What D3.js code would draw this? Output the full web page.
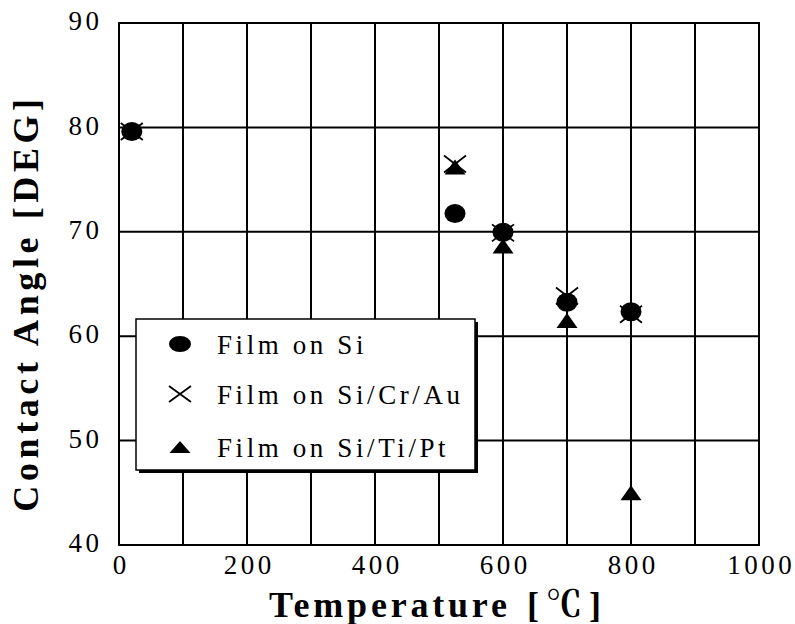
<!DOCTYPE html>
<html><head><meta charset="utf-8">
<script src="https://cdn.jsdelivr.net/npm/d3@7"></script>
<style>
body{margin:0;background:#fff;}
text{font-family:"Liberation Serif","Times New Roman","Noto Serif CJK JP","Noto Sans CJK JP",serif;fill:#000;}
</style></head>
<body>
<svg id="c" width="795" height="624"></svg>
<script>
const xTicks = [0, 200, 400, 600, 800, 1000];
const yTicks = [40, 50, 60, 70, 80, 90];
const xGrid = [100, 200, 300, 400, 500, 600, 700, 800, 900];
const yGrid = [50, 60, 70, 80];

const tempSi = [20, 525, 600, 700, 800];
const angleSi = [79.6, 71.75, 69.95, 63.25, 62.35];
const tempCrAu = [20, 525, 600, 700, 800];
const angleCrAu = [79.6, 76.5, 69.9, 63.85, 62.1];
const tempTiPt = [525, 600, 700, 800];
const angleTiPt = [76.2, 68.65, 61.5, 45.0];

const seriesNames = ["Film on Si", "Film on Si/Cr/Au", "Film on Si/Ti/Pt"];
const xTitleMain = "Temperature";
const xTitleUnit = "[℃]";
const yTitle = "Contact Angle [DEG]";

const svg = d3.select("#c");
const L = 119, R = 759, T = 23, B = 545;
const x = d3.scaleLinear().domain([0, 1000]).range([L, R]);
const y = d3.scaleLinear().domain([40, 90]).range([B, T]);

// grid
svg.append("g").selectAll("line").data(xGrid).join("line")
  .attr("x1", d => x(d)).attr("x2", d => x(d)).attr("y1", T).attr("y2", B)
  .attr("stroke", "#000").attr("stroke-width", 2);
svg.append("g").selectAll("line").data(yGrid).join("line")
  .attr("y1", d => y(d)).attr("y2", d => y(d)).attr("x1", L).attr("x2", R)
  .attr("stroke", "#000").attr("stroke-width", 2);
svg.append("rect").attr("x", L).attr("y", T).attr("width", R - L).attr("height", B - T)
  .attr("fill", "none").attr("stroke", "#000").attr("stroke-width", 2);

// axes
const ls = 3.5;
const xAxis = svg.append("g").attr("transform", `translate(0,${B})`)
  .call(d3.axisBottom(x).tickValues(xTicks).tickSize(0).tickPadding(10).tickFormat(d3.format("d")));
xAxis.select(".domain").remove();
xAxis.selectAll("text").attr("font-size", 27).attr("letter-spacing", ls).attr("dx", ls / 2)
  .style("font-family", '"Liberation Serif","Times New Roman",serif');
const yAxis = svg.append("g").attr("transform", `translate(${L},0)`)
  .call(d3.axisLeft(y).tickValues(yTicks).tickSize(0).tickPadding(20 - ls).tickFormat(d3.format("d")));
yAxis.select(".domain").remove();
yAxis.selectAll("text").attr("font-size", 27).attr("letter-spacing", ls).attr("dy", "0.25em")
  .style("font-family", '"Liberation Serif","Times New Roman",serif');

// titles
svg.append("text").attr("x", 269).attr("y", 617).attr("text-anchor", "start")
  .attr("font-size", 36).attr("font-weight", "bold").attr("letter-spacing", 3.8).text(xTitleMain);
svg.append("text").attr("x", 527).attr("y", 617).attr("text-anchor", "start")
  .attr("font-size", 36).attr("font-weight", "bold").attr("letter-spacing", 7).text(xTitleUnit);
svg.append("text").attr("transform", "translate(38,303) rotate(-90)").attr("text-anchor", "middle")
  .attr("font-size", 36).attr("font-weight", "bold").attr("letter-spacing", 4.6).text(yTitle);

// markers
function circle(g, cx, cy, rx, ry) {
  g.append("ellipse").attr("cx", cx).attr("cy", cy).attr("rx", rx).attr("ry", ry).attr("fill", "#000");
}
function cross(g, cx, cy, hw, hh) {
  g.append("path").attr("d", `M${cx - hw},${cy - hh}L${cx + hw},${cy + hh}M${cx - hw},${cy + hh}L${cx + hw},${cy - hh}`)
    .attr("stroke", "#000").attr("stroke-width", 1.8).attr("fill", "none");
}
function tri(g, cx, cy, hw, hh) {
  g.append("path").attr("d", `M${cx},${cy - hh}L${cx + hw},${cy + hh}L${cx - hw},${cy + hh}Z`).attr("fill", "#000");
}
const pts = svg.append("g");
tempTiPt.forEach((t, i) => tri(pts, x(t), y(angleTiPt[i]), 10.5, 7.5));
tempCrAu.forEach((t, i) => cross(pts, x(t), y(angleCrAu[i]), 11, 8.5));
tempSi.forEach((t, i) => circle(pts, x(t), y(angleSi[i]), 10.5, 9.5));

// legend
const lg = svg.append("g");
lg.append("rect").attr("x", 139).attr("y", 322).attr("width", 339).attr("height", 151).attr("fill", "#000");
lg.append("rect").attr("x", 136).attr("y", 319).attr("width", 339).attr("height", 151)
  .attr("fill", "#fff").attr("stroke", "#000").attr("stroke-width", 1.5);
const rowsY = [344, 394, 447];
circle(lg, 180, rowsY[0], 11, 8);
cross(lg, 180, rowsY[1], 11, 8);
tri(lg, 180, rowsY[2], 10.5, 6);
seriesNames.forEach((n, i) => {
  lg.append("text").attr("x", 217).attr("y", rowsY[i] + 9.5).attr("font-size", 27)
    .attr("letter-spacing", 3.6).text(n);
});
</script>
</body></html>
